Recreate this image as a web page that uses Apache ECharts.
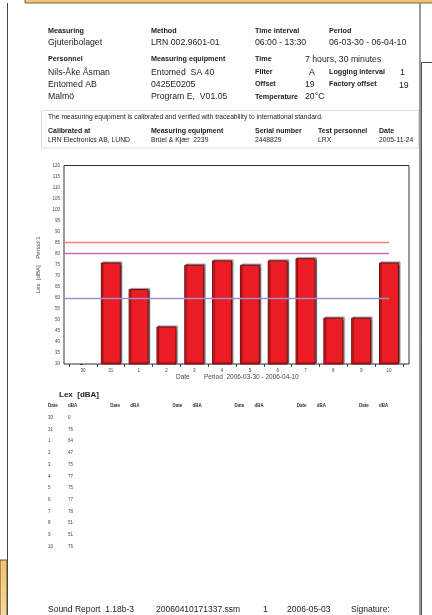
<!DOCTYPE html>
<html><head><meta charset="utf-8">
<script src="https://cdn.jsdelivr.net/npm/echarts@6/dist/echarts.min.js"></script>
<style>html,body{margin:0;padding:0;background:#fff;}#c{width:432px;height:615px;}</style>
</head><body><div id="c"></div>
<script>
const categories = ['30','31','1','2','3','4','5','6','7','8','9','10'];
const lexValues = [0,76,64,47,75,77,75,77,78,51,51,76];
const limitLines = [85, 80, 60];
const limitColors = ['#ee8080', '#c96ac2', '#a08fcf'];
const yMin = 30, yMax = 120, yStep = 5;
const xMin = -0.683, xMax = 11.719;

const FF = '"Liberation Sans", Arial, sans-serif';
const g = [];
function txt(x, y, t, size, bold, color, align) {
  g.push({type:'text', x:x, y:y, silent:true, style:{text:t, fill:color||'#222',
    font:(bold?'bold ':'')+size+'px '+FF, align:align||'left', verticalAlign:'middle',
    textAlign:align||'left', textVerticalAlign:'middle'}});
}
// decorations
g.push({type:'rect', shape:{x:25,y:-1,width:410,height:4}, style:{fill:'#f2c46e', stroke:'#666', lineWidth:1}, silent:true});
g.push({type:'rect', shape:{x:0,y:560,width:7,height:56}, style:{fill:{type:'linear',x:0,y:0,x2:0,y2:1,colorStops:[{offset:0,color:'#f3c169'},{offset:1,color:'#f8d89a'}]}, stroke:'#555', lineWidth:1}, silent:true});
g.push({type:'line', shape:{x1:7.5,y1:3,x2:7.5,y2:615}, style:{stroke:'#444', lineWidth:1}, silent:true});
g.push({type:'line', shape:{x1:420,y1:3,x2:420,y2:615}, style:{stroke:'#999', lineWidth:2}, silent:true});
g.push({type:'line', shape:{x1:421.5,y1:62.5,x2:432,y2:62.5}, style:{stroke:'#444', lineWidth:1}, silent:true});
g.push({type:'line', shape:{x1:421.5,y1:62.5,x2:421.5,y2:615}, style:{stroke:'#555', lineWidth:1}, silent:true});
g.push({type:'rect', shape:{x:41.5,y:110.5,width:377,height:37.5}, style:{fill:'none', stroke:'#ddd', lineWidth:1}, silent:true});

// header labels
[[48,31,'Measuring'],[151,31,'Method'],[255,31,'Time interval'],[329,31,'Period'],
 [48,59,'Personnel'],[151,59,'Measuring equipment'],[255,59,'Time'],
 [255,72,'Filter'],[329,72,'Logging interval'],[255,84,'Offset'],[329,84,'Factory offset'],
 [255,97,'Temperature']].forEach(a=>txt(a[0],a[1],a[2],7.2,true,'#222'));
[[48,43,'Gjuteribolaget'],[151,43,'LRN 002.9601-01'],[255,43,'06:00 - 13:30'],[329,43,'06-03-30 - 06-04-10'],
 [305,60,'7 hours, 30 minutes'],
 [48,73,'Nils-Åke Åsman'],[151,73,'Entomed  SA 40'],[309,73,'A'],[400,73,'1'],
 [48,85,'Entomed AB'],[151,85,'0425E0205'],[305,85,'19'],[399,86,'19'],
 [48,97,'Malmö'],[151,97,'Program E,  V01.05'],[305,97,'20°C']].forEach(a=>txt(a[0],a[1],a[2],8.7,false,'#222'));
txt(48,117,'The measuring equipment is calibrated and verified with traceability to international standard.',6.7,false,'#222');
[[48,131,'Calibrated at'],[151,131,'Measuring equipment'],[255,131,'Serial number'],[318,131,'Test personnel'],[379,131,'Date']]
 .forEach(a=>txt(a[0],a[1],a[2],7,true,'#222'));
[[48,140,'LRN Electronics AB, LUND'],[151,140,'Brüel & Kjær  2239'],[255,140,'2448829'],[318,140,'LRX'],[379,140,'2005-11-24']]
 .forEach(a=>txt(a[0],a[1],a[2],6.8,false,'#222'));

// x axis title
txt(176,377.5,'Date',6.5,false,'#444');
txt(204,377.5,'Period  2006-03-30 - 2006-04-10',6.5,false,'#444');

// table
txt(59,395,'Lex  [dBA]',8,true,'#222');
for (let c = 0; c < 6; c++) {
  txt(48 + c*62.2, 405.7, 'Date', 4.5, true, '#333');
  txt(68 + c*62.2, 405.7, 'dBA', 4.5, true, '#333');
}
categories.forEach((d,i)=>{
  txt(48, 417.7 + i*11.72, d, 4.5, false, '#444');
  txt(68, 417.7 + i*11.72, String(lexValues[i]), 4.5, false, '#444');
});

// footer
[[48,610,'Sound Report  1.18b-3'],[156,610,'20060410171337.ssm'],[263,610,'1'],[287,610,'2006-05-03'],[351,610,'Signature:']]
 .forEach(a=>txt(a[0],a[1],a[2],8.5,false,'#222'));

const chart = echarts.init(document.getElementById('c'), null, {renderer:'canvas'});
chart.setOption({
  animation:false,
  backgroundColor:'#fff',
  grid:[
    {left:64, top:165.5, width:345, height:198.5, show:true, borderColor:'#333', borderWidth:1, backgroundColor:'#fff', z:1},
    {left:69.1, top:165.5, width:333.8, height:198.5, show:false}
  ],
  xAxis:[
    {type:'value', gridIndex:0, min:xMin, max:xMax, show:false},
    {type:'category', gridIndex:1, data:categories, axisLine:{show:false},
     axisTick:{show:true, length:3, lineStyle:{color:'#444'}},
     axisLabel:{fontSize:4.5, color:'#444', margin:4, fontFamily:FF},
     splitLine:{show:true, lineStyle:{color:'#e9e9e9', type:'dashed', width:0.7}}}
  ],
  yAxis:[
    {type:'value', gridIndex:0, min:yMin, max:yMax, interval:yStep,
     axisLine:{show:false}, axisTick:{show:true, length:3, lineStyle:{color:'#444'}},
     axisLabel:{fontSize:4.5, color:'#444', margin:4, fontFamily:FF},
     splitLine:{show:true, lineStyle:{color:'#e6e6e6', type:'dashed', width:0.7}},
     name:'Lex  [dBA]    Period 1', nameLocation:'middle', nameRotate:90, nameGap:19,
     nameTextStyle:{fontSize:6, color:'#444', fontFamily:FF}},
    {type:'value', gridIndex:1, min:yMin, max:yMax, show:false}
  ],
  series:[{
    type:'bar', xAxisIndex:0, yAxisIndex:0, barWidth:20, z:3,
    data:lexValues.map((v,i)=>[i,v]),
    itemStyle:{color:'#ec1c24', borderColor:'#6a1010', borderWidth:1,
      shadowColor:'rgba(0,0,0,0.45)', shadowBlur:1, shadowOffsetX:1.5, shadowOffsetY:-1},
    markLine:{silent:true, symbol:'none', label:{show:false}, animation:false,
      data:limitLines.map((v,k)=>[
        {coord:[xMin, v], lineStyle:{color:limitColors[k], width:1.4, type:'solid'}},
        {coord:[categories.length-1, v]}])}
  }],
  graphic:{elements:g}
});
</script></body></html>
